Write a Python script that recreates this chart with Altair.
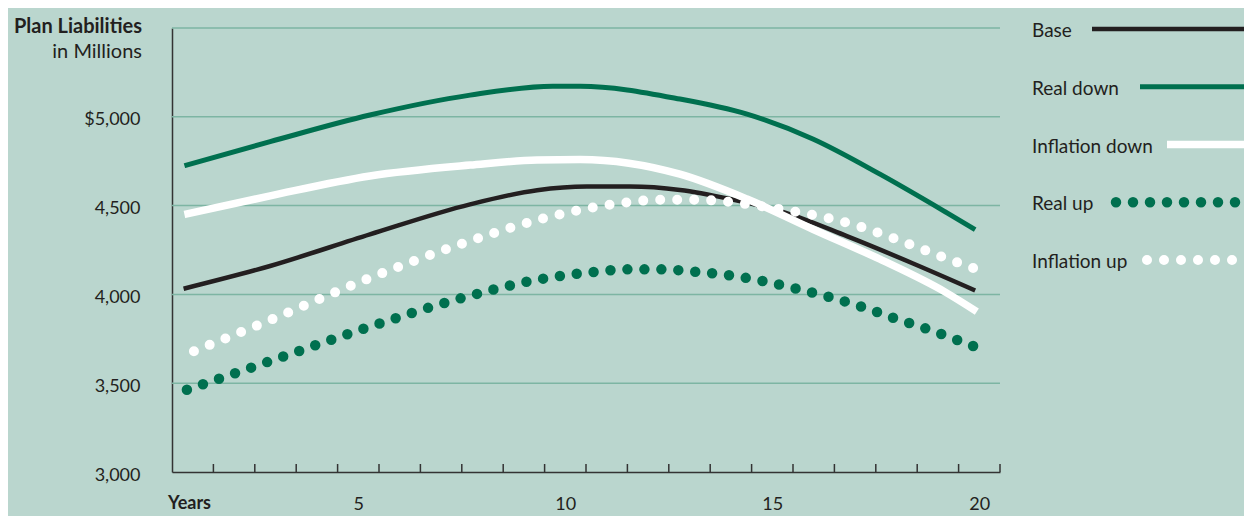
import altair as alt
import numpy as np
import pandas as pd

# ---------------- data ----------------
series_names = ["Base", "Real down", "Inflation down", "Real up", "Inflation up"]

base_years = [0.78, 2.87, 5.28, 7.7, 9.32, 10.52, 11.56, 12.77, 13.98, 15.18, 16.8, 18.4, 19.9]
base_values = [4032, 4160, 4338, 4507, 4587, 4607, 4607, 4588, 4537, 4470, 4328, 4174, 4022]

real_down_years = [0.8, 2.87, 5.28, 7.7, 9.7, 10.36, 12.77, 14.39, 15.98, 17.6, 19.2, 19.9]
real_down_values = [4725, 4860, 5010, 5122, 5172, 5172, 5100, 5015, 4875, 4677, 4462, 4365]

infl_down_years = [0.8, 2.87, 5.28, 7.7, 9.32, 10.36, 12.77, 14.39, 15.98, 17.6, 19.2, 19.94]
infl_down_values = [4450, 4555, 4667, 4728, 4757, 4760, 4677, 4537, 4367, 4198, 4010, 3903]

real_up_years = [0.86, 2.79, 5.12, 7.46, 9.47, 10.68, 11.52, 12.33, 13.13, 13.98, 14.78,
                 15.59, 16.35, 17.16, 17.92, 18.73, 19.48, 19.87]
real_up_values = [3463, 3618, 3806, 3977, 4089, 4126, 4141, 4141, 4128, 4107, 4075,
                  4032, 3987, 3931, 3868, 3806, 3742, 3708]

infl_up_years = [1.03, 2.95, 5.2, 7.54, 9.47, 10.68, 11.48, 12.31, 13.13, 13.94, 14.77,
                 15.57, 16.38, 17.18, 17.94, 18.73, 19.48, 19.87]
infl_up_values = [3680, 3863, 4085, 4288, 4428, 4490, 4518, 4533, 4533, 4521, 4495,
                  4465, 4428, 4377, 4315, 4245, 4179, 4147]

y_tick_values = [3000, 3500, 4000, 4500, 5000]
y_grid_values = [3500, 4000, 4500, 5000, 5500]
x_label_years = [5, 10, 15, 20]
x_tick_years = [1.5, 2.5, 3.5, 4.5, 5.5, 6.5, 7.5, 8.5, 9.5, 10.5,
                11.5, 12.5, 13.5, 14.5, 15.5, 16.5, 17.5, 18.5, 19.5, 20.5]

# ---------------- styles ----------------
FONT = "Lato"
TEXT = "#231f20"
AXIS = "#333333"
GRID = "#7db5a3"
BG = "#bad6ce"
GREEN = "#00704f"
DOT_STEP = 17.0

styles = {
    "Base": dict(color="#231f20", width=4.5, dotted=False, legend_start=920),
    "Real down": dict(color=GREEN, width=5, dotted=False, legend_start=968),
    "Inflation down": dict(color="#ffffff", width=7.5, dotted=False, legend_start=995),
    "Real up": dict(color=GREEN, width=10.5, dotted=True, legend_start=944),
    "Inflation up": dict(color="#ffffff", width=10, dotted=True, legend_start=975),
}

W, H = 828, 444
X_DOMAIN = [0.5, 20.5]
Y_DOMAIN = [3000, 5500]

series_data = {
    "Base": (base_years, base_values),
    "Real down": (real_down_years, real_down_values),
    "Inflation down": (infl_down_years, infl_down_values),
    "Real up": (real_up_years, real_up_values),
    "Inflation up": (infl_up_years, infl_up_values),
}


def dot_gap(xs, ys):
    # spacing so that a dot falls on (or just before) both ends of the dotted curve
    px = (np.array(xs) - X_DOMAIN[0]) / (X_DOMAIN[1] - X_DOMAIN[0]) * W
    py = (np.array(ys) - Y_DOMAIN[0]) / (Y_DOMAIN[1] - Y_DOMAIN[0]) * H
    length = float(np.sum(np.hypot(np.diff(px), np.diff(py)))) * 0.999
    n = max(1, round(length / DOT_STEP))
    return length / n


x_scale = alt.Scale(domain=X_DOMAIN, nice=False, zero=False)
y_scale = alt.Scale(domain=Y_DOMAIN, nice=False, zero=False)

x_axis = alt.Axis(values=x_label_years, grid=False, ticks=False, tickSize=0, domain=True,
                  domainColor=AXIS, domainWidth=1.5, labelFont=FONT, labelFontSize=18,
                  labelColor=TEXT, labelPadding=37, labelBaseline="alphabetic",
                  format="d", title=None, labelFlush=False)
y_axis = alt.Axis(values=y_tick_values, grid=False, ticks=False, tickSize=0, domain=True,
                  domainColor=AXIS, domainWidth=1.5, labelFont=FONT, labelFontSize=18,
                  labelColor=TEXT, labelPadding=32, labelBaseline="middle", labelOffset=3,
                  labelExpr="datum.value == 5000 ? '$5,000' : format(datum.value, ',')",
                  title=None)

grid = alt.Chart(pd.DataFrame({"v": y_grid_values})).mark_rule(
    color=GRID, strokeWidth=1.5
).encode(y=alt.Y("v:Q", scale=y_scale, axis=y_axis))

ticks = alt.Chart(pd.DataFrame({"t": x_tick_years})).mark_rule(
    color=AXIS, strokeWidth=1.5
).encode(
    x=alt.X("t:Q", scale=x_scale, axis=x_axis),
    y=alt.value(H), y2=alt.value(H - 8),
)

line_layers = []
for name in series_names:
    xs, ys = series_data[name]
    st = styles[name]
    df = pd.DataFrame({"year": xs, "value": ys})
    kw = dict(color=st["color"], strokeWidth=st["width"], interpolate="monotone")
    if st["dotted"]:
        kw.update(strokeDash=[0, dot_gap(xs, ys)], strokeCap="round")
    else:
        kw.update(strokeCap="butt")
    line_layers.append(
        alt.Chart(df).mark_line(**kw).encode(
            x=alt.X("year:Q", scale=x_scale, axis=x_axis),
            y=alt.Y("value:Q", scale=y_scale, axis=y_axis),
        )
    )

title_df = pd.DataFrame({"t": ["Plan Liabilities"]})
sub_df = pd.DataFrame({"t": ["in Millions"]})
years_df = pd.DataFrame({"t": ["Years"]})

title1 = alt.Chart(title_df).mark_text(
    font=FONT, fontSize=20, fontWeight="bold", color=TEXT, align="right", baseline="alphabetic"
).encode(text="t:N", x=alt.value(-30), y=alt.value(5))
title2 = alt.Chart(sub_df).mark_text(
    font=FONT, fontSize=20, color=TEXT, align="right", baseline="alphabetic"
).encode(text="t:N", x=alt.value(-30), y=alt.value(30))
years_lbl = alt.Chart(years_df).mark_text(
    font=FONT, fontSize=18, fontWeight="bold", color=TEXT, align="left", baseline="alphabetic"
).encode(text="t:N", x=alt.value(-4), y=alt.value(481))

main = alt.layer(grid, ticks, *line_layers, title1, title2, years_lbl)

# ---------------- legend ----------------
leg_y = alt.Scale(domain=series_names, range=[1, 232], type="point", padding=0)
leg_df = pd.DataFrame({"series": series_names})
legend_layers = [
    alt.Chart(leg_df).mark_text(
        font=FONT, fontSize=19, color=TEXT, align="left", baseline="middle", dy=2
    ).encode(text="series:N", x=alt.value(860), y=alt.Y("series:N", scale=leg_y, axis=None))
]
for name in series_names:
    st = styles[name]
    d = pd.DataFrame({"series": [name], "start": [st["legend_start"]]})
    kw = dict(color=st["color"], strokeWidth=st["width"])
    if st["dotted"]:
        kw.update(strokeDash=[0, DOT_STEP], strokeCap="round")
    else:
        kw.update(strokeCap="butt")
    legend_layers.append(
        alt.Chart(d).mark_rule(**kw).encode(
            x=alt.X("start:Q", scale=None),
            x2=alt.value(1100),
            y=alt.Y("series:N", scale=leg_y, axis=None),
        )
    )
legend = alt.layer(*legend_layers)

chart = alt.layer(main, legend).resolve_scale(x="independent", y="independent").properties(
    width=W, height=H,
    autosize=alt.AutoSizeParams(type="none"),
    padding={"left": 164, "top": 20, "right": 244, "bottom": 44},
    background=BG,
).configure_view(stroke=None)

chart.save("out.html", embed_options={"renderer": "svg", "actions": False})
